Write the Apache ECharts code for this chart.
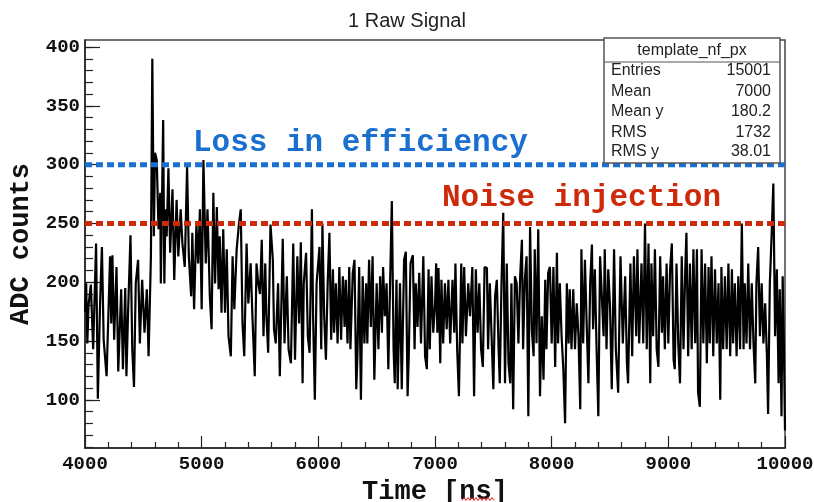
<!DOCTYPE html>
<html>
<head>
<meta charset="utf-8">
<script src="https://cdn.jsdelivr.net/npm/echarts@6/dist/echarts.min.js"></script>
<style>html,body{margin:0;padding:0;background:#fff}#c{width:814px;height:502px}</style>
</head>
<body>
<div id="c"></div>
<script>
// ---- data ----
const timeNs = [
4000,4010,4020,4030,4050,4070,4095,4110,4130,4145,4160,4185,4215,4225,4235,4250,4270,4285,4310,4325,4345,4355,4370,4390,4405,4420,4435,4455,4470,4490,4510,4530,4545,4565,4577,4590,4600,4615,4630,4645,4650,4670,4680,4690,4700,4715,4730,4750,4765,4785,4800,4820,4835,4855,4875,4890,4910,4920,4935,4955,4970,4985,5000,5015,5035,5050,5070,5085,5100,5115,5130,5145,5155,5170,5185,5200,5215,5230,5250,5265,5280,5300,5320,5335,5350,5365,5385,5400,5420,5435,5455,5470,5485,
5500,5515,5530,5545,5555,5570,5590,5610,5620,5635,5655,5670,5695,5710,5730,5745,5765,5785,5800,5820,5835,5850,5865,5875,5895,5910,5925,5945,5955,5970,5985,6010,6025,6035,6050,6065,6080,6095,6110,6125,6135,6150,6165,6180,6195,6210,6225,6235,6250,6265,6275,6295,6310,6325,6335,6350,6365,6380,6395,6410,6420,6435,6450,6465,6480,6500,6515,6530,6545,6555,6570,6585,6600,6615,6630,6645,6655,6670,6680,6700,6715,6735,6750,6765,6775,6790,6810,6825,6835,6850,6865,6880,6900,6915,6930,6945,6955,6970,6985,
7000,7010,7020,7030,7045,7055,7070,7085,7100,7115,7130,7150,7165,7175,7190,7205,7225,7235,7250,7265,7285,7300,7320,7335,7350,7365,7380,7395,7410,7425,7445,7455,7470,7485,7500,7515,7530,7545,7555,7570,7585,7600,7615,7630,7645,7655,7670,7685,7700,7715,7730,7745,7755,7770,7785,7800,7815,7830,7845,7855,7870,7885,7900,7915,7930,7945,7955,7970,7985,8000,8015,8030,8045,8055,8070,8085,8100,8115,8130,8145,8155,8170,8185,8200,8215,8230,8245,8255,8270,8285,8300,8315,8330,8345,8355,8370,8385,8400,8415,8430,8445,8455,8470,8485,
8500,8515,8535,8550,8570,8590,8610,8630,8645,8655,8675,8690,8705,8725,8735,8750,8770,8785,8800,8815,8830,8845,8855,8870,8885,8900,8915,8930,8945,8955,8970,8985,9000,9015,9030,9045,9055,9070,9085,9100,9115,9130,9145,9155,9170,9185,9200,9215,9230,9245,9255,9270,9285,9300,9315,9330,9345,9355,9370,9385,9400,9415,9430,9445,9455,9470,9485,9500,9515,9530,9545,9555,9570,9585,9600,9615,9630,9645,9655,9670,9685,9700,9715,9730,9745,9755,9770,9785,9800,9815,9830,9845,9855,9870,9885,9900,9915,9930,9945,9955,9970,9980,9990,10000
];
const adcCounts = [
175,199,148,180,198,143,233,101,185,230,151,120,222,165,223,151,213,124,194,126,195,120,177,240,143,111,199,219,148,202,157,194,137,222,390,239,310,304,245,276,199,338,199,262,239,297,225,279,202,270,222,262,233,213,298,222,188,242,177,250,216,262,177,304,216,262,188,160,276,199,264,194,239,174,245,174,228,154,137,222,177,228,250,262,165,137,233,182,216,171,120,216,199,
190,236,154,216,171,140,249,219,160,148,199,120,237,148,205,143,131,233,134,222,165,234,114,199,225,154,140,262,171,100,199,230,143,250,171,134,199,242,151,211,157,199,148,213,151,205,162,202,148,213,143,208,219,109,137,213,100,205,148,199,148,219,162,222,117,199,143,205,157,213,171,199,126,199,269,143,114,202,109,199,109,219,226,103,137,216,223,143,199,162,208,148,222,137,126,211,143,205,157,
180,216,157,212,131,202,148,199,160,202,148,202,157,216,143,103,216,148,213,154,199,171,213,103,211,157,199,143,128,213,212,143,199,154,109,188,202,143,114,199,259,114,216,131,114,199,92,205,199,148,205,236,143,202,222,86,247,160,137,228,148,245,103,171,117,202,143,208,213,148,213,128,225,148,199,154,126,80,199,148,194,143,194,143,182,154,92,228,148,219,165,114,199,232,160,211,143,86,222,188,154,228,143,211,
180,109,228,143,106,222,148,205,131,114,216,137,222,154,228,148,216,148,250,143,233,114,216,154,228,143,128,222,157,205,143,216,148,211,233,134,126,216,148,114,222,143,211,242,137,216,143,228,148,228,106,94,228,148,216,131,213,148,222,137,211,148,199,100,213,143,205,143,216,137,211,148,199,137,205,143,250,143,199,148,216,143,199,148,114,199,230,154,199,148,182,137,88,199,239,284,154,211,114,194,86,205,150,74
];
const lossLevel = 300;
const noiseLevel = 250;
const xRange = [4000, 10000];
const yRange = [59, 406];
const yTickLabels = [100, 150, 200, 250, 300, 350, 400];
const statsTitle = 'template_nf_px';
const statsNames = ['Entries', 'Mean', 'Mean y', 'RMS', 'RMS y'];
const statsValues = ['15001', '7000', '180.2', '1732', '38.01'];

// ---- build ----
const signal = timeNs.map((t, i) => [t, adcCounts[i]]);
const yMinor = [];
for (let v = 60; v <= 400; v += 10) yMinor.push(v);

const mono = 'Liberation Mono';
const sans = 'Liberation Sans';

const statsRows = [71, 92, 112, 133, 152];
const graphic = [
  { type: 'rect', shape: { x: 604, y: 38, width: 176, height: 125 },
    style: { fill: '#fff', stroke: '#555', lineWidth: 1.5 }, z: 100 },
  { type: 'line', shape: { x1: 604, y1: 62, x2: 780, y2: 62 },
    style: { stroke: '#555', lineWidth: 1.2 }, z: 101 },
  { type: 'text', x: 692, y: 51, z: 101,
    style: { text: statsTitle, font: '16px ' + sans, fill: '#222', align: 'center', verticalAlign: 'middle' } },
  { type: 'text', x: 193, y: 143, z: 101,
    style: { text: 'Loss in efficiency', font: 'bold 31px ' + mono, fill: '#1b6fcf', align: 'left', verticalAlign: 'middle' } },
  { type: 'text', x: 442, y: 198, z: 101,
    style: { text: 'Noise injection', font: 'bold 31px ' + mono, fill: '#cc2a0a', align: 'left', verticalAlign: 'middle' } }
];
statsNames.forEach((n, i) => {
  graphic.push({ type: 'text', x: 611, y: statsRows[i], z: 101,
    style: { text: n, font: '16px ' + sans, fill: '#222', align: 'left', verticalAlign: 'middle' } });
  graphic.push({ type: 'text', x: 771, y: statsRows[i], z: 101,
    style: { text: statsValues[i], font: '16px ' + sans, fill: '#222', align: 'right', verticalAlign: 'middle' } });
});
// spell-check squiggle under "ns"
const sq = [];
for (let k = 0; k <= 16; k++) sq.push([462 + k * 2, 499 + (k % 2 ? -1.5 : 1.5)]);
graphic.push({ type: 'polyline', shape: { points: sq }, style: { stroke: '#e02020', lineWidth: 1, fill: null }, z: 101 });

const chart = echarts.init(document.getElementById('c'), null, { renderer: 'canvas' });
chart.setOption({
  animation: false,
  backgroundColor: '#fff',
  title: { text: '1 Raw Signal', left: 'center', top: 6,
    textStyle: { fontFamily: sans, fontSize: 20, fontWeight: 'normal', color: '#222' } },
  grid: { left: 85, right: 29, top: 40, bottom: 54, outerBoundsMode: 'none', containLabel: false,
    show: true, borderColor: '#444', borderWidth: 1.5, backgroundColor: 'transparent' },
  xAxis: {
    type: 'value', min: xRange[0], max: xRange[1], interval: 1000,
    name: 'Time [ns]', nameLocation: 'middle', nameGap: 28,
    nameTextStyle: { fontFamily: mono, fontWeight: 'bold', fontSize: 27, color: '#111' },
    axisLine: { lineStyle: { color: '#222', width: 1.5 } },
    axisTick: { inside: true, length: 12, lineStyle: { color: '#222', width: 1.2 } },
    minorTick: { show: true, splitNumber: 5, length: 6, lineStyle: { color: '#222', width: 1.2 } },
    axisLabel: { formatter: v => String(v), fontFamily: mono, fontWeight: 'bold', fontSize: 19, color: '#111', margin: 7, showMinLabel: true, showMaxLabel: true, hideOverlap: false },
    splitLine: { show: false }
  },
  yAxis: [{
    type: 'value', min: yRange[0], max: yRange[1],
    name: 'ADC counts', nameLocation: 'middle', nameGap: 49, nameRotate: 90,
    nameTextStyle: { fontFamily: mono, fontWeight: 'bold', fontSize: 27, color: '#111' },
    axisLine: { show: true, lineStyle: { color: '#222', width: 1.5 } },
    axisTick: { show: true, inside: true, length: 15, customValues: yTickLabels, lineStyle: { color: '#222', width: 1.2 } },
    axisLabel: { customValues: yTickLabels, formatter: v => String(v), fontFamily: mono, fontWeight: 'bold', fontSize: 19, color: '#111', margin: 5 },
    splitLine: { show: false }
  }, {
    type: 'value', min: yRange[0], max: yRange[1], position: 'left',
    axisLine: { show: false },
    axisTick: { show: true, inside: true, length: 8, customValues: yMinor, lineStyle: { color: '#222', width: 1.2 } },
    axisLabel: { show: false },
    splitLine: { show: false }
  }],
  series: [{
    type: 'line', data: signal, symbol: 'none', yAxisIndex: 0,
    lineStyle: { color: '#000', width: 2.2 }, z: 2
  }, {
    type: 'line', data: [[xRange[0], lossLevel], [xRange[1], lossLevel]], symbol: 'none',
    lineStyle: { color: '#1b6fcf', width: 5, type: [7, 4] }, z: 3
  }, {
    type: 'line', data: [[xRange[0], noiseLevel], [xRange[1], noiseLevel]], symbol: 'none',
    lineStyle: { color: '#cc2a0a', width: 5, type: [7, 4] }, z: 3
  }],
  graphic: graphic
});
</script>
</body>
</html>
